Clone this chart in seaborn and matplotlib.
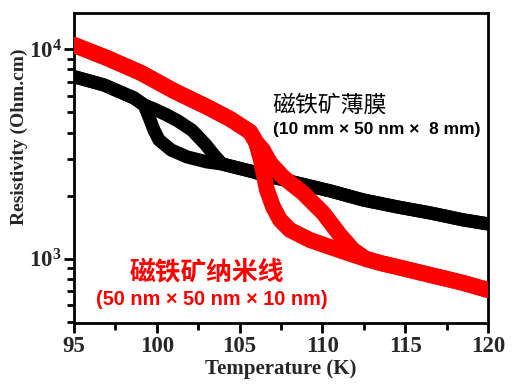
"""
Resistivity vs temperature for magnetite thin film and nanowires (Verwey transition).
"""

import numpy as np
import pandas as pd
import matplotlib
matplotlib.use("Agg")
import matplotlib.pyplot as plt
import seaborn as sns
from matplotlib.ticker import LogLocator, MultipleLocator, NullFormatter

# Thin film (black), two branches of the hysteresis loop
film_low_T = [95, 96.81, 98.62, 99.23, 99.53, 99.83, 100.13, 100.86, 101.82, 103.03, 103.94,
              105.87, 106.41, 108.47, 110.46, 112.45, 114.5, 116.5, 118.49, 120]
film_low_R = [7380, 6740, 5845, 5410, 4740, 4110, 3690, 3305, 3062, 2897, 2833,
              2594, 2512, 2300, 2109, 1910, 1770, 1656, 1535, 1468]
film_high_T = [95, 96.81, 98.62, 99.23, 99.9, 100.6, 101.3, 102.13, 102.97, 103.45, 103.94,
               105.87, 106.41, 108.47, 110.46, 112.45, 114.5, 116.5, 118.49, 120]
film_high_R = [7380, 6740, 5845, 5410, 5150, 4850, 4530, 4100, 3490, 3126, 2833,
               2594, 2512, 2300, 2109, 1910, 1770, 1656, 1535, 1468]

# Nanowires (red), two branches of the hysteresis loop
wire_steep_T = [95, 96.99, 99.05, 101.04, 103.03, 104.42, 105.63, 105.99, 106.29, 106.65,
                107.02, 107.44, 108.04, 109.25, 110.46, 111.67, 112.63, 113.48, 114.5, 116.5,
                118.49, 120]
wire_steep_R = [10450, 9060, 7690, 6310, 5300, 4645, 4030, 3606, 2958, 2133,
                1770, 1535, 1374, 1230, 1140, 1057, 1000, 957, 916, 839,
                769, 711]
wire_slow_T = [95, 96.99, 99.05, 101.04, 103.03, 104.42, 105.63, 105.99, 106.41, 106.84, 107.62,
               108.83, 110.04, 111.06, 111.85, 112.63, 113.48, 114.5, 116.5, 118.49, 120]
wire_slow_R = [10450, 9060, 7690, 6310, 5300, 4645, 4030, 3606, 3304, 2864, 2455,
               2061, 1656, 1300, 1104, 1000, 957, 916, 839, 769, 711]

x_ticks = [95, 100, 105, 110, 115, 120]

film = pd.concat([
    pd.DataFrame({"T": film_low_T, "R": film_low_R, "branch": "low"}),
    pd.DataFrame({"T": film_high_T, "R": film_high_R, "branch": "high"}),
])
wire = pd.concat([
    pd.DataFrame({"T": wire_steep_T, "R": wire_steep_R, "branch": "steep"}),
    pd.DataFrame({"T": wire_slow_T, "R": wire_slow_R, "branch": "slow"}),
])

sns.set_theme(style="ticks")
plt.rcParams["font.family"] = ["Liberation Serif", "DejaVu Serif"]
plt.rcParams["font.weight"] = "bold"
plt.rcParams["mathtext.default"] = "regular"

fig = plt.figure(figsize=(5.2, 3.9), dpi=100)
ax = fig.add_axes([74 / 520, 67 / 390, 414 / 520, 310 / 390])

sns.lineplot(data=film, x="T", y="R", units="branch", estimator=None, color="black",
             linewidth=9.5, solid_joinstyle="round", solid_capstyle="round", ax=ax, zorder=2)
sns.lineplot(data=wire, x="T", y="R", units="branch", estimator=None, color="#ff0000",
             linewidth=11.5, solid_joinstyle="round", solid_capstyle="round", ax=ax, zorder=3)

ax.set_yscale("log")
ax.set_xlim(95, 120)
ax.set_ylim(495, 14840)
ax.set_xticks(x_ticks)
ax.xaxis.set_minor_locator(MultipleLocator(2.5))
ax.yaxis.set_major_locator(LogLocator(base=10))
ax.yaxis.set_minor_locator(LogLocator(base=10, subs=np.arange(2, 10)))
ax.yaxis.set_minor_formatter(NullFormatter())

ax.tick_params(which="major", direction="out", length=7, width=2, labelsize=16.5, pad=2, color="black")
ax.tick_params(which="minor", direction="out", length=5, width=2, color="black")
for lab in ax.get_xticklabels() + ax.get_yticklabels():
    lab.set_fontweight("bold")
for s in ax.spines.values():
    s.set_linewidth(2)
    s.set_color("black")

ax.set_xlabel("Temperature (K)", fontsize=15, fontweight="bold")
ax.set_ylabel("Resistivity (Ohm.cm)", fontsize=14, fontweight="bold")
ax.xaxis.set_label_coords(0.5, -0.115)
ax.yaxis.set_label_coords(-0.11, 0.6)

cjk = ["Noto Sans CJK SC", "DejaVu Sans"]
ax.text(0.618, 0.703, "磁铁矿薄膜", transform=ax.transAxes, fontsize=16.5,
        family=cjk, fontweight="normal", color="black", ha="center", va="center")
ax.text(0.731, 0.623, "(10 mm × 50 nm ×  8 mm)", transform=ax.transAxes, fontsize=12.5,
        family=["Liberation Sans", "DejaVu Sans"], fontweight="bold", color="black",
        ha="center", va="center")
ax.text(0.32, 0.165, "磁铁矿纳米线", transform=ax.transAxes, fontsize=18.5,
        family=cjk, fontweight="bold", color="#ff0000", ha="center", va="center")
ax.text(0.332, 0.077, "(50 nm × 50 nm × 10 nm)", transform=ax.transAxes, fontsize=14.3,
        family=["Liberation Sans", "DejaVu Sans"], fontweight="bold", color="#ff0000",
        ha="center", va="center")

fig.savefig("out.png", dpi=100)
